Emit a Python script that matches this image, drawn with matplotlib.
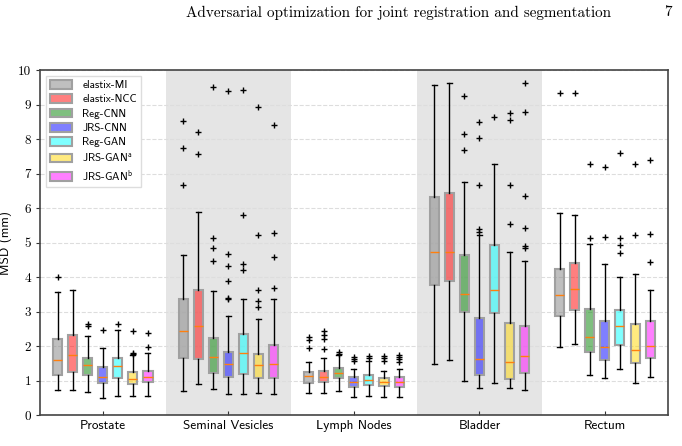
import matplotlib
matplotlib.use('Agg')
import matplotlib.pyplot as plt
import numpy as np

# organs and methods
organs = ['Prostate', 'Seminal Vesicles', 'Lymph Nodes', 'Bladder', 'Rectum']
methods = ['elastix-MI', 'elastix-NCC', 'Reg-CNN', 'JRS-CNN', 'Reg-GAN',
           'JRS-GAN$^\\mathregular{a}$', 'JRS-GAN$^\\mathregular{b}$']
colors = ['gray', 'red', 'green', 'blue', 'cyan', 'gold', 'magenta']

# box stats: (whislo, q1, med, q3, whishi, fliers)
prostate = [
    (0.73, 1.17, 1.59, 2.19, 3.56, [4.0]),
    (0.72, 1.24, 1.73, 2.31, 3.63, []),
    (0.66, 1.17, 1.45, 1.64, 2.30, [2.63, 2.57]),
    (0.50, 0.94, 1.10, 1.40, 1.93, [2.46]),
    (0.56, 1.08, 1.42, 1.64, 2.46, [2.63]),
    (0.56, 0.91, 1.03, 1.25, 1.75, [2.44, 1.81, 1.78]),
    (0.54, 0.95, 1.10, 1.29, 1.79, [2.38, 1.96]),
]
seminal = [
    (0.70, 1.64, 2.44, 3.36, 4.64, [8.53, 7.73, 6.67]),
    (0.91, 1.61, 2.58, 3.62, 5.87, [8.19, 7.56]),
    (0.75, 1.21, 1.67, 2.22, 3.58, [9.50, 5.14, 4.83, 4.45]),
    (0.60, 1.09, 1.49, 1.83, 2.88, [9.38, 4.67, 4.31, 3.87, 3.40, 3.35]),
    (0.60, 1.19, 1.80, 2.34, 3.35, [9.41, 5.80, 4.39, 4.20]),
    (0.65, 1.06, 1.44, 1.78, 2.79, [8.94, 5.23, 3.62, 3.30, 3.12]),
    (0.60, 1.06, 1.48, 2.03, 3.36, [8.41, 5.27, 4.57, 3.69]),
]
lymph = [
    (0.64, 0.93, 1.12, 1.26, 1.53, [2.27, 2.17, 1.93]),
    (0.63, 0.96, 1.11, 1.28, 1.65, [2.43, 2.32, 2.21, 1.91]),
    (0.69, 1.08, 1.21, 1.35, 1.75, [1.84, 1.77]),
    (0.52, 0.80, 0.95, 1.10, 1.32, [1.67, 1.62, 1.57]),
    (0.56, 0.88, 1.02, 1.16, 1.57, [1.71, 1.64]),
    (0.52, 0.83, 0.96, 1.08, 1.28, [1.71, 1.64, 1.57]),
    (0.52, 0.80, 0.95, 1.09, 1.32, [1.75, 1.69, 1.62, 1.55]),
]
bladder = [
    (1.48, 3.76, 4.72, 6.32, 9.57, []),
    (1.60, 3.87, 4.72, 6.43, 9.63, []),
    (0.99, 2.98, 3.50, 4.63, 6.75, [9.26, 8.14, 7.69]),
    (0.78, 1.16, 1.61, 2.82, 5.22, [8.48, 8.04, 6.68, 5.39, 5.30]),
    (0.94, 2.96, 3.61, 4.92, 7.29, [8.63]),
    (0.78, 1.04, 1.53, 2.66, 4.73, [8.74, 8.55, 6.66, 5.53]),
    (0.72, 1.21, 1.71, 2.58, 4.46, [9.61, 8.78, 6.34, 5.41, 4.90, 4.85]),
]
rectum = [
    (1.96, 2.86, 3.49, 4.24, 5.86, [9.34]),
    (2.06, 3.04, 3.64, 4.41, 5.79, [9.32]),
    (1.17, 1.82, 2.26, 3.08, 4.97, [7.27, 5.12]),
    (1.06, 1.60, 1.97, 2.72, 4.37, [7.19, 5.16]),
    (1.32, 2.03, 2.57, 3.04, 4.00, [7.59, 5.14, 4.92, 4.69]),
    (0.94, 1.50, 1.87, 2.65, 4.08, [7.27, 5.22]),
    (1.09, 1.65, 1.99, 2.72, 3.63, [7.39, 5.24, 4.43]),
]
data = [prostate, seminal, lymph, bladder, rectum]

fig = plt.figure(figsize=(6.82, 4.46), dpi=100)
ax = fig.add_axes([0.0587, 0.0695, 0.9203, 0.7735])

fig.text(0.272, 0.972, 'Adversarial optimization for joint registration and segmentation',
         family='cmr10', fontsize=10.9, va='center')
fig.text(0.985, 0.972, '7', family='cmr10', fontsize=10.9, va='center', ha='right')

# shaded groups
ax.axvspan(1.5, 2.5, color='#e5e5e5', zorder=0, lw=0)
ax.axvspan(3.5, 4.5, color='#e5e5e5', zorder=0, lw=0)

spacing = 0.12
for g, group in enumerate(data):
    for m, (lo, q1, med, q3, hi, fl) in enumerate(group):
        st = [dict(whislo=lo, q1=q1, med=med, q3=q3, whishi=hi, fliers=fl)]
        pos = g + 1 + (m - 3) * spacing
        bp = ax.bxp(st, positions=[pos], widths=0.072, patch_artist=True,
                    capwidths=0.04, manage_ticks=False,
                    boxprops=dict(edgecolor='#a0a0a0', linewidth=1.5),
                    medianprops=dict(color='#ff7f0e', linewidth=1),
                    whiskerprops=dict(color='black', linewidth=1),
                    capprops=dict(color='black', linewidth=1),
                    flierprops=dict(marker='+', markeredgecolor='black',
                                    markersize=5, markeredgewidth=1))
        for b in bp['boxes']:
            b.set_facecolor(matplotlib.colors.to_rgba(colors[m], 0.5))

ax.set_xlim(0.5, 5.5)
ax.set_ylim(0, 10)
ax.set_xticks(range(1, 6))
ax.set_xticklabels(organs, family='cmss10', fontsize=9.5)
ax.set_yticks(range(0, 11))
ax.set_yticklabels([str(i) for i in range(0, 11)], family='cmr10', fontsize=9.5)
ax.tick_params(axis='x', direction='in', length=3, color='#333333')
ax.tick_params(axis='y', direction='out', length=3, color='#333333')
ax.set_ylabel('MSD (mm)', family='cmss10', fontsize=9.5)
ax.yaxis.grid(True, linestyle='--', color='#dddddd', linewidth=0.8)
ax.set_axisbelow(True)
for s in ax.spines.values():
    s.set_color('#444444')
    s.set_linewidth(1.2)

handles = [matplotlib.patches.Patch(facecolor=matplotlib.colors.to_rgba(c, 0.5),
                                    edgecolor='#a0a0a0', linewidth=1.5) for c in colors]
leg = ax.legend(handles, methods, loc='upper left', prop={'family': 'cmss10', 'size': 8},
                handlelength=2.0, handleheight=0.8, labelspacing=0.38,
                handletextpad=0.9, borderaxespad=0.5, framealpha=1, fancybox=False)
leg.get_frame().set_edgecolor('#dddddd')

plt.savefig('out.png', dpi=100)
